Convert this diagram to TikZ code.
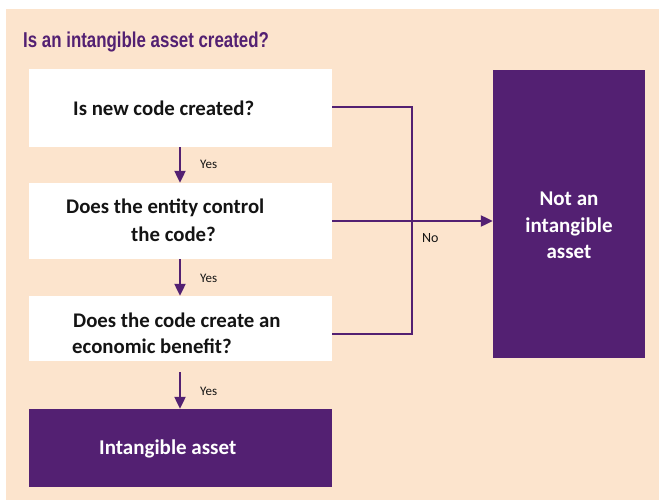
\documentclass[tikz,border=0pt]{standalone}
\usepackage{fontspec}
\setmainfont{Carlito}
\newfontfamily\titlefont{Liberation Sans}
\usetikzlibrary{arrows.meta}
\definecolor{purp}{HTML}{532072}
\definecolor{peach}{HTML}{FCE4CD}
\definecolor{txt}{HTML}{141414}
\tikzset{
  qbox/.style={fill=white, draw=none, minimum width=303pt, inner sep=0pt},
  pbox/.style={fill=purp, draw=none, inner sep=0pt},
  qtext/.style={font=\fontsize{20.8}{24}\selectfont\bfseries, text=txt, inner sep=0pt, anchor=base west},
  wtext/.style={font=\fontsize{21}{26}\selectfont\bfseries, text=white, inner sep=0pt},
  lab/.style={font=\fontsize{13}{15}\selectfont, text=txt, inner sep=0pt, anchor=base west},
  conn/.style={draw=purp, line width=2.2pt},
  arr/.style={conn, -{Triangle[length=12pt,width=11pt]}}
}
\begin{document}
\begin{tikzpicture}[x=1pt,y=-1pt]
\useasboundingbox (0,0) rectangle (659,503);
\fill[white] (0,0) rectangle (659,503);
\fill[peach] (6,9) rectangle (659,500);
\node[font=\titlefont\fontsize{21.5}{24}\selectfont\bfseries, text=purp, anchor=base west, inner sep=0pt] (title) at (23,48) {\scalebox{0.785}[1]{Is an intangible asset created?}};
% boxes
\node[qbox, minimum height=78pt] (box1) at (180.5,108) {};
\node[qbox, minimum height=76pt] (box2) at (180.5,221) {};
\node[qbox, minimum height=65pt] (box3) at (180.5,328.5) {};
\node[pbox, minimum width=303pt, minimum height=78pt] (box4) at (180.5,448) {};
\node[pbox, minimum width=152pt, minimum height=288pt] (notbox) at (569,214) {};
% texts
\node[qtext] (t1) at (73,115) {Is new code created?};
\node[qtext] (t2a) at (66,213) {Does the entity control};
\node[qtext] (t2b) at (131,241) {the code?};
\node[qtext] (t3a) at (73,327) {Does the code create an};
\node[qtext] (t3b) at (72,353) {economic benefit?};
\node[wtext, anchor=base west] (t4) at (99,454) {Intangible asset};
\node[wtext, anchor=base] (n1) at (569,205) {Not an};
\node[wtext, anchor=base] (n2) at (569,232) {intangible};
\node[wtext, anchor=base] (n3) at (569,258) {asset};
% arrows down
\draw[arr] (box1.south -| 180,0) -- (box2.north -| 180,0);
\draw[arr] (box2.south -| 180,0) -- (box3.north -| 180,0);
\draw[arr] ([yshift=-11pt]box3.south -| 180,0) -- (box4.north -| 180,0);
\node[lab] (y1) at (200,168) {Yes};
\node[lab] (y2) at (200,282) {Yes};
\node[lab] (y3) at (200,395) {Yes};
% no connectors
\coordinate (j) at (412,0);
\coordinate (b3e) at (332,334);
\draw[conn] (box1.east |- 0,107) -| (j |- b3e) -- (b3e);
\draw[arr] (box2.east) -- (box2.east -| notbox.west);
\node[lab, font=\fontsize{14}{16}\selectfont] (no) at (422,242) {No};
\end{tikzpicture}
\end{document}
